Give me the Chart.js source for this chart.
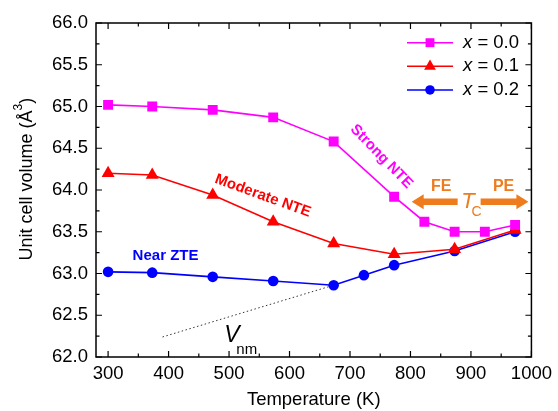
<!DOCTYPE html>
<html lang="en">
<head>
  <meta charset="UTF-8" />
  <title>Unit cell volume vs temperature</title>
  <script src="https://cdn.jsdelivr.net/npm/chart.js"></script>
  <style>
    body { margin: 0; background: #fff; }
    .chart-box { width: 558px; height: 411px; position: relative; }
  </style>
</head>
<body>
  <div class="chart-box">
    <canvas id="volumeChart"></canvas>
  </div>

  <script>
    // Temperatures (K) and unit cell volumes (Å^3) for each composition
    const temps00 = [300, 373, 473, 573, 673, 773, 823, 873, 923, 973];
    const vol00   = [65.02, 65.00, 64.96, 64.87, 64.58, 63.92, 63.62, 63.50, 63.50, 63.58];
    const temps01 = [300, 373, 473, 573, 673, 773, 873, 973];
    const vol01   = [64.20, 64.18, 63.94, 63.62, 63.36, 63.23, 63.29, 63.52];
    const temps02 = [300, 373, 473, 573, 673, 723, 773, 873, 973];
    const vol02   = [63.02, 63.01, 62.96, 62.91, 62.86, 62.98, 63.10, 63.27, 63.50];
    // dotted V_nm extrapolation
    const vnmTemps = [390, 673];
    const vnmVols  = [62.24, 62.86];

    const seriesNames = ['0.0', '0.1', '0.2'];
    const xTicks = [300, 400, 500, 600, 700, 800, 900, 1000];
    const yTicks = [62.0, 62.5, 63.0, 63.5, 64.0, 64.5, 65.0, 65.5, 66.0];

    const FONT = '"Liberation Sans", Arial, sans-serif';
    const MAGENTA = '#ff00ff', RED = '#ff0000', BLUE = '#0000ff', ORANGE = '#ee7b1c';

    const pts = (xs, ys) => xs.map((t, i) => ({ x: t, y: ys[i] }));

    const series = [
      { name: seriesNames[0], color: MAGENTA, style: 'rect', radius: 7, data: pts(temps00, vol00), order: 0 },
      { name: seriesNames[1], color: RED, style: 'triangle', radius: 7.5, data: pts(temps01, vol01), order: 1 },
      { name: seriesNames[2], color: BLUE, style: 'circle', radius: 5.3, data: pts(temps02, vol02), order: 2 }
    ];

    // frame, inward ticks, legend and text labels
    const decorations = {
      id: 'decorations',
      afterDatasetsDraw(chart) {
        const { ctx, chartArea: a, scales: { x, y } } = chart;
        ctx.save();
        ctx.strokeStyle = '#000';
        ctx.lineWidth = 1.5;
        ctx.strokeRect(a.left, a.top, a.right - a.left, a.bottom - a.top);

        ctx.lineWidth = 1.2;
        ctx.beginPath();
        for (let t = 300; t <= 1000; t += 50) {
          const px = x.getPixelForValue(t);
          const len = t % 100 === 0 ? 6 : 3.5;
          ctx.moveTo(px, a.bottom); ctx.lineTo(px, a.bottom - len);
          ctx.moveTo(px, a.top); ctx.lineTo(px, a.top + len);
        }
        for (let v = 62; v <= 66.001; v += 0.25) {
          const py = y.getPixelForValue(v);
          const len = Math.abs(v * 2 - Math.round(v * 2)) < 0.01 ? 6 : 3.5;
          ctx.moveTo(a.left, py); ctx.lineTo(a.left + len, py);
          ctx.moveTo(a.right, py); ctx.lineTo(a.right - len, py);
        }
        ctx.stroke();

        // legend
        series.forEach((s, i) => {
          const ly = 42.7 + i * 23.6;
          ctx.strokeStyle = s.color;
          ctx.fillStyle = s.color;
          ctx.lineWidth = 1.5;
          ctx.beginPath();
          ctx.moveTo(407, ly); ctx.lineTo(453, ly);
          ctx.stroke();
          Chart.helpers.drawPoint(ctx, { pointStyle: s.style, radius: s.radius * 0.9, rotation: 0, borderWidth: 0 }, 430, ly);
          ctx.fillStyle = '#000';
          ctx.textBaseline = 'middle';
          ctx.textAlign = 'left';
          ctx.font = 'italic 18.5px ' + FONT;
          ctx.fillText('x', 463, ly);
          const w = ctx.measureText('x').width;
          ctx.font = '18.5px ' + FONT;
          ctx.fillText(' = ' + s.name, 463 + w, ly);
        });

        const label = (text, vx, vy, color, font, angle) => {
          ctx.save();
          ctx.translate(x.getPixelForValue(vx), y.getPixelForValue(vy));
          ctx.rotate(angle * Math.PI / 180);
          ctx.fillStyle = color;
          ctx.font = font;
          ctx.textAlign = 'center';
          ctx.textBaseline = 'middle';
          ctx.fillText(text, 0, 0);
          ctx.restore();
        };
        label('Strong NTE', 752, 64.40, MAGENTA, 'bold 15px ' + FONT, 46);
        label('Moderate NTE', 556, 63.93, RED, 'bold 15px ' + FONT, 20);
        label('Near ZTE', 395, 63.21, BLUE, 'bold 15px ' + FONT, 0);
        label('FE', 851, 64.04, ORANGE, 'bold 16px ' + FONT, 0);
        label('PE', 954, 64.04, ORANGE, 'bold 16px ' + FONT, 0);

        // V_nm
        ctx.fillStyle = '#000';
        ctx.textAlign = 'left';
        ctx.textBaseline = 'alphabetic';
        ctx.font = 'italic 23px ' + FONT;
        ctx.fillText('V', x.getPixelForValue(492), y.getPixelForValue(62.18));
        ctx.font = '15px ' + FONT;
        ctx.fillText('nm', x.getPixelForValue(512), y.getPixelForValue(62.04));

        // T_C with FE / PE arrows
        ctx.fillStyle = ORANGE;
        ctx.font = 'italic 22px ' + FONT;
        ctx.fillText('T', x.getPixelForValue(884), y.getPixelForValue(63.78));
        ctx.font = '14px ' + FONT;
        ctx.fillText('C', x.getPixelForValue(901), y.getPixelForValue(63.69));

        const arrow = (fromT, toT, vy) => {
          const x0 = x.getPixelForValue(fromT), x1 = x.getPixelForValue(toT);
          const py = y.getPixelForValue(vy);
          const dir = Math.sign(x1 - x0);
          const head = 12, half = 7.5, shaft = 3.2;
          ctx.beginPath();
          ctx.moveTo(x0, py - shaft);
          ctx.lineTo(x1 - dir * head, py - shaft);
          ctx.lineTo(x1 - dir * head, py - half);
          ctx.lineTo(x1, py);
          ctx.lineTo(x1 - dir * head, py + half);
          ctx.lineTo(x1 - dir * head, py + shaft);
          ctx.lineTo(x0, py + shaft);
          ctx.closePath();
          ctx.fill();
        };
        arrow(878, 802, 63.86);
        arrow(916, 995, 63.86);
        ctx.restore();

        // y-axis title with superscript
        ctx.save();
        ctx.translate(27, 179);
        ctx.rotate(-Math.PI / 2);
        ctx.fillStyle = '#000';
        ctx.textBaseline = 'middle';
        ctx.textAlign = 'left';
        ctx.font = '18px ' + FONT;
        const main = 'Unit cell volume (Å';
        const wMain = ctx.measureText(main).width;
        ctx.font = '12px ' + FONT;
        const wSup = ctx.measureText('3').width;
        ctx.font = '19px ' + FONT;
        const wPar = ctx.measureText(')').width;
        let cx = -(wMain + wSup + wPar) / 2;
        ctx.font = '18px ' + FONT;
        ctx.fillText(main, cx, 0);
        cx += wMain;
        ctx.font = '12px ' + FONT;
        ctx.fillText('3', cx, -8);
        cx += wSup;
        ctx.font = '18px ' + FONT;
        ctx.fillText(')', cx, 0);
        ctx.restore();
      }
    };

    const datasets = series.map(s => ({
      label: 'x = ' + s.name,
      data: s.data,
      borderColor: s.color,
      backgroundColor: s.color,
      borderWidth: 1.6,
      pointStyle: s.style,
      pointRadius: s.radius,
      pointBorderWidth: 0,
      tension: 0,
      order: s.order
    }));
    datasets.push({
      label: 'Vnm',
      data: pts(vnmTemps, vnmVols),
      borderColor: '#333',
      borderWidth: 1,
      borderDash: [1.5, 2.5],
      pointRadius: 0,
      order: 3
    });

    new Chart(document.getElementById('volumeChart'), {
      type: 'line',
      data: { datasets },
      options: {
        responsive: true,
        maintainAspectRatio: false,
        animation: false,
        layout: { padding: { top: 23, right: 22, left: 0, bottom: 0 } },
        plugins: { legend: { display: false }, tooltip: { enabled: false } },
        scales: {
          x: {
            type: 'linear', min: 280, max: 1000,
            afterBuildTicks: s => { s.ticks = xTicks.map(v => ({ value: v })); },
            afterFit: s => { s.height = 54; },
            grid: { display: false, drawTicks: false },
            border: { display: false },
            ticks: { color: '#000', font: { size: 18.5, family: FONT }, padding: 6, maxRotation: 0, callback: v => String(v) },
            title: { display: true, text: 'Temperature (K)', color: '#000', font: { size: 18.5, family: FONT }, padding: 0 }
          },
          y: {
            min: 62, max: 66,
            afterBuildTicks: s => { s.ticks = yTicks.map(v => ({ value: v })); },
            afterFit: s => { s.width = 96; },
            grid: { display: false, drawTicks: false },
            border: { display: false },
            ticks: { color: '#000', font: { size: 18.5, family: FONT }, padding: 8, callback: v => v.toFixed(1) }
          }
        }
      },
      plugins: [decorations]
    });
  </script>
</body>
</html>
